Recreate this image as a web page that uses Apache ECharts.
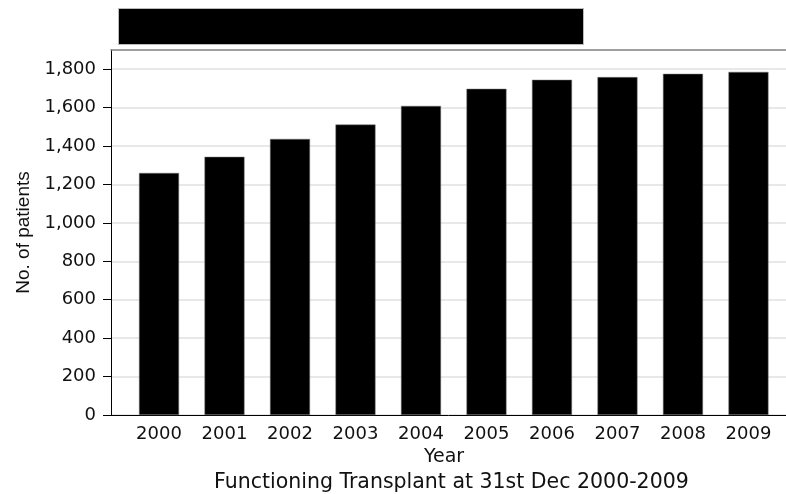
<!DOCTYPE html>
<html>
<head>
<meta charset="utf-8">
<script src="https://cdn.jsdelivr.net/npm/echarts@6/dist/echarts.min.js"></script>
<style>html,body{margin:0;padding:0;background:#fff;}#c{width:786px;height:494px;}</style>
</head>
<body>
<div id="c"></div>
<script>
const years = [2000, 2001, 2002, 2003, 2004, 2005, 2006, 2007, 2008, 2009];
const patients = [1260, 1344, 1437, 1512, 1609, 1698, 1745, 1759, 1776, 1786];
const yTicks = [0, 200, 400, 600, 800, 1000, 1200, 1400, 1600, 1800];
const titleText = 'Number of Patients with Functioning Transplant';
const xName = 'Year';
const yName = 'No. of patients';
const footText = 'Functioning Transplant at 31st Dec 2000-2009';

const wide = '"DejaVu Sans", sans-serif';
const narrow = '"Liberation Sans", Arial, sans-serif';
const chart = echarts.init(document.getElementById('c'), null, {renderer: 'canvas'});
chart.setOption({
  animation: false,
  backgroundColor: '#fff',
  textStyle: {fontFamily: wide},
  title: {
    text: footText,
    left: 214,
    bottom: 1,
    padding: 0,
    textStyle: {fontSize: 20.5, fontWeight: 'normal', color: '#111', fontFamily: wide}
  },
  graphic: [
    {type: 'rect', left: 118, top: 8, shape: {width: 465, height: 36}, style: {fill: '#000', stroke: '#bbb', lineWidth: 1}},
    {type: 'text', left: 140, top: 17, style: {text: titleText, fill: '#000', font: '16px ' + narrow}}
  ],
  grid: {left: 111, right: 0, top: 50, bottom: 79, containLabel: false},
  xAxis: [
    {
      type: 'value',
      min: 1999.267,
      max: 2009.573,
      name: xName,
      nameLocation: 'middle',
      nameGap: 31,
      nameTextStyle: {fontSize: 19, color: '#111', fontFamily: wide, padding: [0, 9, 0, 0]},
      axisLine: {show: true, lineStyle: {color: '#000', width: 1}},
      axisTick: {show: false},
      splitLine: {show: false},
      axisLabel: {
        customValues: years,
        formatter: v => String(Math.round(v)),
        fontSize: 18, color: '#111', margin: 10, fontFamily: wide
      }
    },
    {
      type: 'value',
      position: 'top',
      min: 0, max: 1,
      axisLine: {show: true, lineStyle: {color: '#808080', width: 1.5}},
      axisTick: {show: false},
      axisLabel: {show: false},
      splitLine: {show: false}
    }
  ],
  yAxis: {
    type: 'value',
    min: 0,
    max: 1900,
    interval: 200,
    name: yName,
    nameLocation: 'middle',
    nameGap: 78,
    nameTextStyle: {fontSize: 19, color: '#111', fontFamily: narrow},
    axisLine: {show: true, lineStyle: {color: '#000', width: 1}},
    axisTick: {show: true, customValues: yTicks, length: 8, lineStyle: {color: '#000'}},
    axisLabel: {
      customValues: yTicks,
      formatter: v => v.toLocaleString('en-US'),
      fontSize: 18, color: '#111', margin: 15, fontFamily: wide
    },
    splitLine: {show: true, lineStyle: {color: '#e0e0e0', width: 1.5}}
  },
  series: [{
    type: 'bar',
    xAxisIndex: 0,
    barWidth: 40,
    data: years.map((y, i) => [y, patients[i]]),
    itemStyle: {color: '#000', borderColor: '#777', borderWidth: 0.5}
  }]
});
</script>
</body>
</html>
